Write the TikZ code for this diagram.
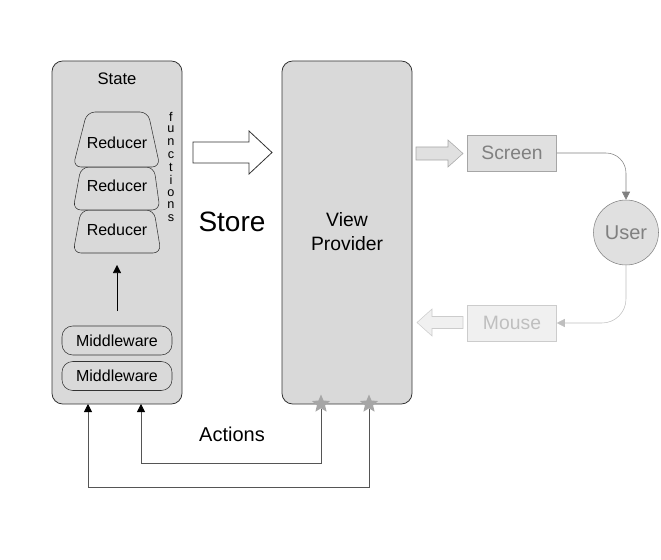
\documentclass[tikz,border=0pt]{standalone}
\usepackage{fontspec}
\setmainfont{Liberation Sans}
\usetikzlibrary{arrows.meta,shapes.geometric}
\definecolor{boxfill}{HTML}{D9D9D9}
\definecolor{boxline}{HTML}{333333}
\definecolor{uifill}{HTML}{E0E0E0}
\definecolor{uiline}{HTML}{A6A6A6}
\definecolor{uitext}{HTML}{808080}
\definecolor{offfill}{HTML}{F0F0F0}
\definecolor{offline}{HTML}{CCCCCC}
\definecolor{offtext}{HTML}{BFBFBF}
\definecolor{wire}{HTML}{555555}
\begin{document}
\begin{tikzpicture}[x=0.75pt,y=-0.75pt,
    panel/.style={draw=boxline,fill=boxfill,rounded corners=8pt,semithick},
    label/.style={font=\fontsize{12}{14}\selectfont},
    tip/.style={-{Triangle[length=6pt,width=6pt,color=black]}}]
    \useasboundingbox (0,0) rectangle (661,560) ;

    \draw[panel] (52,61) rectangle (182,404) ;
    \draw[panel] (282,61) rectangle (412,404) ;
    \node[font=\fontsize{12.5}{14}\selectfont] (state) at (117,79) {State} ;
    \node[font=\fontsize{14.5}{18}\selectfont,align=center] (view) at (347,232) {View\\Provider} ;

    \draw[draw=boxline,fill=boxfill,rounded corners=6pt] (81,210) -- (154,210) -- (161,253) -- (73,253) -- cycle ;
    \draw[draw=boxline,fill=boxfill,rounded corners=6pt] (81,167) -- (154,167) -- (160,210) -- (73,210) -- cycle ;
    \draw[draw=boxline,fill=boxfill,rounded corners=6pt] (87,112) -- (148,112) -- (160,167) -- (73,167) -- cycle ;
    \node[label] (red1) at (117,143) {Reducer} ;
    \node[label] (red2) at (117,186) {Reducer} ;
    \node[label] (red3) at (117,230) {Reducer} ;
    \foreach \ch [count=\i] in {f,u,n,c,t,i,o,n,s}
        \node[font=\fontsize{9.5}{10}\selectfont,inner sep=0] (fn\i) at (171,104.5+12.6*\i) {\ch} ;

    \node[label,draw=boxline,rounded corners=8pt,minimum width=110*0.75pt,minimum height=29*0.75pt] (mw1) at (117,340.5) {Middleware} ;
    \node[label,draw=boxline,rounded corners=8pt,minimum width=110*0.75pt,minimum height=29*0.75pt] (mw2) at (117,376) {Middleware} ;
    \coordinate (up) at (117,311) ;
    \coordinate (red3tip) at (117,265) ;
    \draw[tip] (up) -- (red3tip) ;

    \node[font=\fontsize{21}{24}\selectfont] (store) at (232,222) {Store} ;
    \draw[boxline,semithick,fill=white] (193,142) -- (249,142) -- (249,131) -- (272,152.5) -- (249,174) -- (249,163) -- (193,163) -- cycle ;

    % screen / user / mouse
    \draw[uiline,fill=uifill] (416,147) -- (448,147) -- (448,140) -- (463,153.5) -- (448,167) -- (448,160) -- (416,160) -- cycle ;
    \node[draw=uiline,fill=uifill,text=uitext,font=\fontsize{14.5}{16}\selectfont,minimum width=89*0.75pt,minimum height=36*0.75pt] (screen) at (512,153) {Screen} ;
    \node[circle,draw=uitext,fill=uifill,text=uitext,font=\fontsize{15}{16}\selectfont,minimum size=65*0.75pt,inner sep=0] (user) at (626,232.5) {User} ;
    \node[draw=offline,fill=offfill,text=offtext,font=\fontsize{14.5}{16}\selectfont,minimum width=89*0.75pt,minimum height=36*0.75pt] (mouse) at (512,323) {Mouse} ;
    \draw[offline,fill=offfill] (463,316.5) -- (432,316.5) -- (432,309) -- (417,322.5) -- (432,336) -- (432,328.5) -- (463,328.5) -- cycle ;
    \draw[uitext,-{Triangle[length=6pt,width=6pt]},rounded corners=15pt] (screen.east) -| (user.north) ;
    \draw[offtext,-{Triangle[length=6pt,width=6pt]},rounded corners=18pt] (user.south) |- (mouse.east) ;

    % actions
    \node[star,star points=5,star point ratio=2.2,fill=uiline,inner sep=0,minimum size=19*0.75pt] (act1) at (321,404) {} ;
    \node[star,star points=5,star point ratio=2.2,fill=uiline,inner sep=0,minimum size=19*0.75pt] (act2) at (369,404) {} ;
    \coordinate (in1) at (141,404) ;
    \coordinate (in2) at (88,404) ;
    \draw[wire,semithick,tip] (act1) -- (321,463) -| (in1) ;
    \draw[wire,semithick,tip] (act2) -- (369,487) -| (in2) ;
    \node[font=\fontsize{15}{17}\selectfont] (actions) at (232,434) {Actions} ;
\end{tikzpicture}
\end{document}
